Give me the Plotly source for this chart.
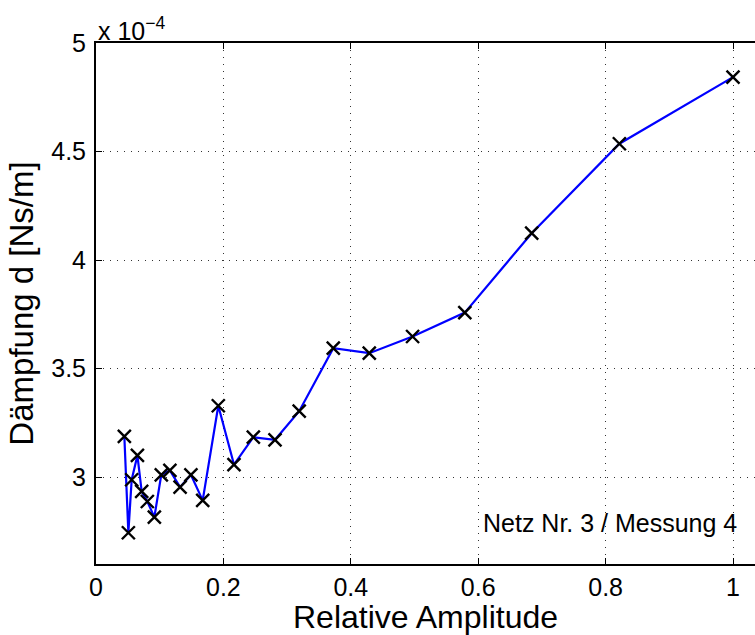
import plotly.graph_objects as go

# Relative amplitude (x) and damping d in units of 1e-4 Ns/m (y)
amplitude = [0.0445, 0.0508, 0.056, 0.065, 0.0717, 0.0806, 0.0916, 0.1025, 0.116,
             0.132, 0.149, 0.1675, 0.192, 0.2166, 0.247, 0.281, 0.319, 0.3725,
             0.429, 0.497, 0.579, 0.684, 0.8216, 1.0]
daempfung = [3.188, 2.744, 2.988, 3.100, 2.935, 2.888, 2.816, 3.011, 3.031,
             2.954, 3.011, 2.893, 3.329, 3.058, 3.184, 3.172, 3.304, 3.594,
             3.571, 3.648, 3.758, 4.124, 4.536, 4.843]
x_ticks = [0, 0.2, 0.4, 0.6, 0.8, 1]
x_tick_labels = ["0", "0.2", "0.4", "0.6", "0.8", "1"]
y_ticks = [3, 3.5, 4, 4.5, 5]
y_tick_labels = ["3", "3.5", "4", "4.5", "5"]

W, H = 755, 635
L, R, T, B = 96, 0, 43, 71
FONT = "Liberation Sans, Arial, Helvetica, sans-serif"
GRID_DASH = "1px,6px"

fig = go.Figure()
fig.add_trace(go.Scatter(
    x=amplitude, y=daempfung, mode="lines+markers",
    line=dict(color="#0000ff", width=2.2),
    marker=dict(symbol="x-thin", size=13, color="black",
                line=dict(color="black", width=2.4)),
    showlegend=False, cliponaxis=False,
))

fig.update_layout(
    width=W, height=H,
    margin=dict(l=L, r=R, t=T, b=B, pad=0),
    paper_bgcolor="white", plot_bgcolor="white",
    font=dict(family=FONT, color="black", size=25),
    xaxis=dict(
        range=[0, (W - L) / 637.0],
        tickmode="array", tickvals=x_ticks, ticktext=x_tick_labels,
        ticks="inside", ticklen=6, tickwidth=1, tickcolor="black",
        showline=True, linecolor="black", linewidth=2, mirror="allticks",
        showgrid=True, gridcolor="#333333", gridwidth=1, griddash=GRID_DASH,
        zeroline=False,
        tickfont=dict(size=25, family=FONT),
        title=dict(text="Relative Amplitude", font=dict(size=32, family=FONT), standoff=8),
    ),
    yaxis=dict(
        range=[2.6, 5.0],
        tickmode="array", tickvals=y_ticks, ticktext=y_tick_labels,
        ticks="inside", ticklen=6, tickwidth=1, tickcolor="black",
        showline=True, linecolor="black", linewidth=2, mirror=False,
        showgrid=True, gridcolor="#333333", gridwidth=1, griddash=GRID_DASH,
        zeroline=False,
        tickfont=dict(size=25, family=FONT),
        ticklabelstandoff=3,
        title=dict(text="Dämpfung d [Ns/m]", font=dict(size=33, family=FONT), standoff=8),
    ),
    annotations=[
        dict(text="x 10<sup>−4</sup>", xref="paper", yref="paper",
             x=0, y=1, xanchor="left", yanchor="bottom", yshift=-4, xshift=0,
             showarrow=False, font=dict(size=25, family=FONT)),
        dict(text="Netz Nr. 3 / Messung 4", xref="x", yref="paper",
             x=1.0, y=0.079, xanchor="right", yanchor="middle", xshift=6,
             showarrow=False, font=dict(size=25, family=FONT)),
    ],
)

fig.write_html("out.html")
